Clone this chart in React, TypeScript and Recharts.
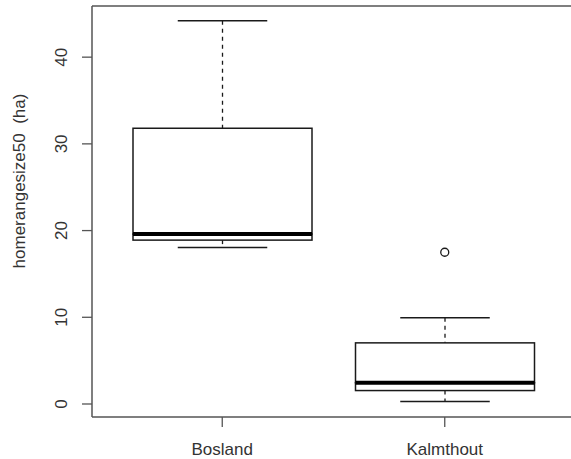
import React from 'react';
import {
  ComposedChart,
  Bar,
  Scatter,
  XAxis,
  YAxis,
  Label,
  ReferenceLine,
} from 'recharts';

// values
const categories = ['Bosland', 'Kalmthout'];
const mins = [18.05, 0.3];
const q1s = [18.9, 1.55];
const medians = [19.6, 2.45];
const q3s = [31.8, 7.05];
const maxs = [44.2, 9.95];
const outliers = [null, 17.5];
const yTicks = [0, 10, 20, 30, 40];
const yDomain = [-1.5, 45.9];

// stacked segments: invisible base, lower whisker, lower box, upper box, upper whisker
const chartData = categories.map((name, i) => ({
  name,
  base: mins[i],
  lowWhisker: q1s[i] - mins[i],
  lowBox: medians[i] - q1s[i],
  highBox: q3s[i] - medians[i],
  highWhisker: maxs[i] - q3s[i],
  outlier: outliers[i],
}));

const INK = '#1a1a1a';
const FRAME = '#555';
const FONT = '"Liberation Sans", Arial, sans-serif';

const Empty = () => <g />;

const LowerWhisker = (props: any) => {
  const { x, y, width, height } = props;
  const cx = x + width / 2;
  const bottom = y + height;
  return (
    <g>
      <line x1={cx} y1={y} x2={cx} y2={bottom} stroke={INK} strokeWidth={1.3} strokeDasharray="4 4" />
      <line x1={cx - width / 4} y1={bottom} x2={cx + width / 4} y2={bottom} stroke={INK} strokeWidth={1.5} />
    </g>
  );
};

const UpperWhisker = (props: any) => {
  const { x, y, width, height } = props;
  const cx = x + width / 2;
  return (
    <g>
      <line x1={cx} y1={y} x2={cx} y2={y + height} stroke={INK} strokeWidth={1.3} strokeDasharray="4 4" />
      <line x1={cx - width / 4} y1={y} x2={cx + width / 4} y2={y} stroke={INK} strokeWidth={1.5} />
    </g>
  );
};

const BoxHalf = (props: any) => {
  const { x, y, width, height } = props;
  return <rect x={x} y={y} width={width} height={height} fill="#fff" stroke={INK} strokeWidth={1.5} />;
};

// upper half of the box, with the thick median line along its bottom edge
const BoxUpper = (props: any) => {
  const { x, y, width, height } = props;
  const med = y + height;
  return (
    <g>
      <rect x={x} y={y} width={width} height={height} fill="#fff" stroke={INK} strokeWidth={1.5} />
      <line x1={x} y1={med} x2={x + width} y2={med} stroke="#000" strokeWidth={4} />
    </g>
  );
};

const OutlierDot = (props: any) => {
  const { cx, cy, payload } = props;
  if (payload == null || payload.outlier == null || cy == null || isNaN(cy)) return <g />;
  return <circle cx={cx} cy={cy} r={4} fill="#fff" stroke={INK} strokeWidth={1.3} />;
};

const YTick = (props: any) => {
  const { x, y, payload } = props;
  const tx = x - 13;
  return (
    <text
      x={tx}
      y={y}
      transform={`rotate(-90, ${tx}, ${y})`}
      textAnchor="middle"
      fill="#333"
      fontSize={17}
      fontFamily={FONT}
    >
      {payload.value}
    </text>
  );
};

const YLabel = () => (
  <text
    x={25}
    y={181}
    transform="rotate(-90, 25, 181)"
    textAnchor="middle"
    fill="#333"
    fontSize={17}
    fontFamily={FONT}
    style={{ whiteSpace: 'pre' }}
  >
    {'homerangesize50  (ha)'}
  </text>
);

export default function App() {
  return (
    <div
      style={{
        position: 'absolute',
        left: 0,
        top: 0,
        width: 571,
        height: 459,
        overflow: 'hidden',
        background: '#fff',
      }}
    >
      <ComposedChart
        width={580}
        height={459}
        data={chartData}
        margin={{ top: 6, right: 5, left: 0, bottom: 0 }}
        barSize={179}
      >
        <XAxis
          dataKey="name"
          height={42}
          padding={{ left: 19, right: 19 }}
          tickSize={10}
          tickMargin={16}
          axisLine={{ stroke: FRAME, strokeWidth: 1.5 }}
          tickLine={{ stroke: FRAME, strokeWidth: 1.3 }}
          tick={{ fill: '#333', fontSize: 17, fontFamily: FONT }}
        />
        <YAxis
          type="number"
          width={92}
          domain={yDomain}
          ticks={yTicks}
          allowDataOverflow
          tickSize={10}
          axisLine={{ stroke: FRAME, strokeWidth: 1.5 }}
          tickLine={{ stroke: FRAME, strokeWidth: 1.3 }}
          tick={<YTick />}
        >
          <Label content={<YLabel />} />
        </YAxis>

        {/* top edge of the plot frame */}
        <ReferenceLine y={yDomain[1]} stroke={FRAME} strokeWidth={1.5} ifOverflow="visible" />

        <Bar dataKey="base" stackId="box" shape={<Empty />} isAnimationActive={false} />
        <Bar dataKey="lowWhisker" stackId="box" shape={<LowerWhisker />} isAnimationActive={false} />
        <Bar dataKey="lowBox" stackId="box" shape={<BoxHalf />} isAnimationActive={false} />
        <Bar dataKey="highBox" stackId="box" shape={<BoxUpper />} isAnimationActive={false} />
        <Bar dataKey="highWhisker" stackId="box" shape={<UpperWhisker />} isAnimationActive={false} />
        <Scatter dataKey="outlier" shape={<OutlierDot />} isAnimationActive={false} />
      </ComposedChart>
    </div>
  );
}
